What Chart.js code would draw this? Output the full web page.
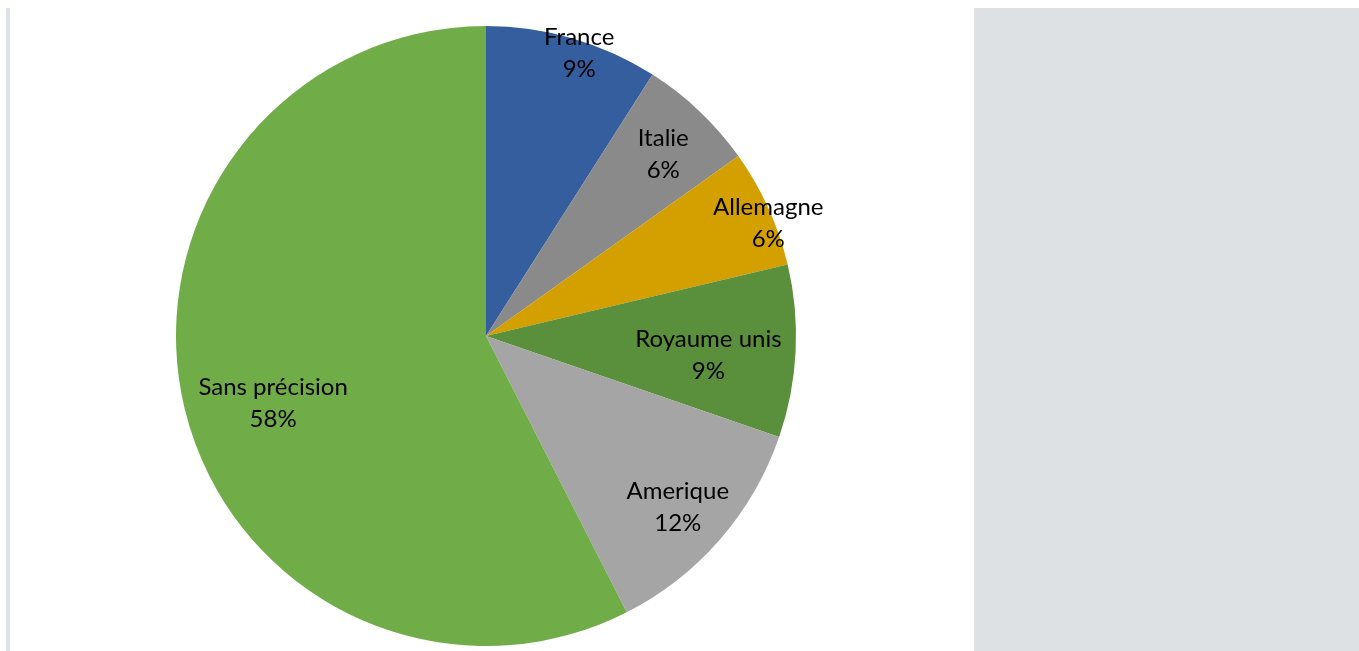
<!DOCTYPE html>
<html>
<head>
<meta charset="utf-8">
<script src="https://cdn.jsdelivr.net/npm/chart.js@4/dist/chart.umd.min.js"></script>
<style>
  html, body { margin: 0; padding: 0; background: #fff; }
  #wrap { position: relative; width: 1359px; height: 651px; overflow: hidden; }
  #leftLine { position: absolute; left: 6px; top: 8px; width: 4px; height: 643px; background: #dee1e4; }
  #sidePanel { position: absolute; left: 974px; top: 8px; width: 385px; height: 643px; background: #dee1e4; }
  #pie { position: absolute; left: 0; top: 0; }
</style>
</head>
<body>
<div id="wrap">
  <div id="leftLine"></div>
  <div id="sidePanel"></div>
  <canvas id="pie" width="1359" height="651"></canvas>
</div>
<script>
// ---- DATA ----
const countries = ["France", "Italie", "Allemagne", "Royaume unis", "Amerique", "Sans précision"];
const shares = [9.03, 6.11, 6.16, 8.98, 12.22, 57.5];
const colors = ["#355e9f", "#8a8a8a", "#d4a000", "#5a8f3b", "#a5a5a5", "#70ac47"];

// ---- LABEL PLACEMENT (fraction of radius, angle nudge in degrees) ----
const labelRadius = [0.96, 0.82, 0.98, 0.72, 0.83, 0.72];
const labelNudge = [2, 0.7, 2.7, 2, 0.8, -4];

const sliceLabels = {
  id: "sliceLabels",
  afterDatasetsDraw(chart) {
    const ctx = chart.ctx;
    const meta = chart.getDatasetMeta(0);
    ctx.save();
    ctx.fillStyle = "#000";
    ctx.font = "24px Lato, 'Open Sans', sans-serif";
    ctx.textAlign = "center";
    ctx.textBaseline = "middle";
    meta.data.forEach((arc, i) => {
      const p = arc.getProps(["x", "y", "startAngle", "endAngle", "outerRadius"], true);
      const mid = (p.startAngle + p.endAngle) / 2 + labelNudge[i] * Math.PI / 180;
      const r = p.outerRadius * labelRadius[i];
      const cx = p.x + Math.cos(mid) * r;
      const cy = p.y + Math.sin(mid) * r;
      ctx.fillText(countries[i], cx, cy - 16);
      ctx.fillText(Math.round(shares[i]) + "%", cx, cy + 16);
    });
    ctx.restore();
  }
};

new Chart(document.getElementById("pie"), {
  type: "pie",
  data: {
    labels: countries,
    datasets: [{
      data: shares,
      backgroundColor: colors,
      borderWidth: 0
    }]
  },
  options: {
    responsive: false,
    animation: false,
    layout: { padding: { top: 26, bottom: 5, left: 176, right: 563 } },
    plugins: {
      legend: { display: false },
      tooltip: { enabled: false }
    }
  },
  plugins: [sliceLabels]
});
</script>
</body>
</html>
